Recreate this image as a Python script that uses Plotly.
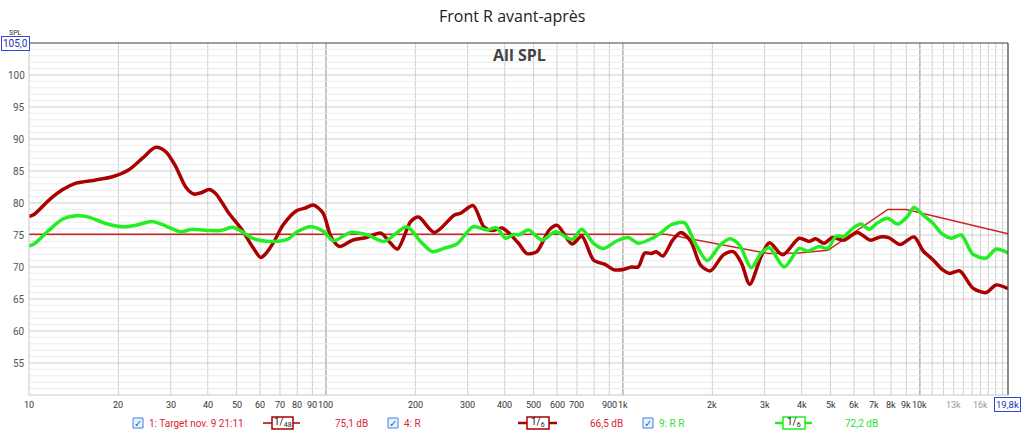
import plotly.graph_objects as go
import math

# ---------------- data ----------------
target_f = [10, 1400, 3100, 3900, 4900, 7800, 9000, 19800]
target_db = [75.1, 75.1, 72.1, 72.2, 72.6, 79.0, 79.0, 75.2]

r_f = [10, 10.4, 11.7, 13.0, 14.4, 16.8, 19.1, 21.7, 24.1, 26.7, 28.9, 31.2, 33.7, 35.9, 38,
       40.4, 42.5, 47.1, 52.2, 56.5, 60.3, 63, 66.9, 71.8, 79.6, 85, 90.6, 97.8, 104, 111, 123,
       137, 153, 163, 174, 193, 205, 232, 270, 284, 313, 340, 363, 392, 445, 475, 513, 565, 601,
       674, 727, 796, 871, 928, 1002, 1069, 1125, 1184, 1246, 1295, 1363, 1471, 1567, 1693, 1826,
       1970, 2180, 2352, 2507, 2672, 2922, 3115, 3452, 3924, 4236, 4460, 4755, 5073, 5548, 6149,
       6812, 7353, 7843, 8580, 9550, 10260, 11080, 11970, 12600, 13620, 15080, 16700, 18050, 19800]
r_db = [77.9, 78.2, 80.5, 82.1, 83.1, 83.6, 84.1, 85.2, 87.0, 88.7, 88.0, 85.7, 82.5, 81.4, 81.6,
        82.1, 81.5, 78.4, 75.8, 73.2, 71.5, 72.2, 74.0, 76.6, 78.8, 79.2, 79.7, 78.4, 74.7, 73.2, 74.2,
        74.6, 75.3, 74.0, 72.8, 77.1, 77.8, 75.4, 78.1, 78.4, 79.6, 76.3, 75.7, 76.1, 73.7, 72.1, 72.4,
        75.8, 76.5, 73.6, 74.8, 71.1, 70.4, 69.6, 69.6, 70.0, 70.0, 72.2, 72.1, 72.4, 71.7, 74.2, 75.4,
        74.0, 70.3, 69.4, 71.9, 72.4, 70.6, 67.3, 71.7, 73.8, 71.9, 74.5, 74.0, 74.4, 73.7, 74.6, 74.2,
        75.4, 74.2, 74.7, 74.6, 73.5, 74.7, 72.5, 71.1, 69.5, 69.0, 69.4, 66.7, 66.0, 67.2, 66.6]

rr_f = [10, 10.4, 11.7, 13.0, 14.4, 15.9, 18.1, 20.6, 22.8, 26.0, 28.9, 32.4, 35.4, 40.4, 44.2,
        48.4, 52.2, 56.5, 64.3, 74, 80, 88.5, 98, 106, 121, 138, 157, 187, 208, 228, 249, 276, 313,
        348, 375, 403, 429, 445, 481, 533, 593, 674, 727, 796, 860, 955, 1043, 1125, 1230, 1330,
        1454, 1612, 1738, 1922, 2124, 2291, 2470, 2707, 2922, 3115, 3490, 3924, 4185, 4580, 4890,
        5220, 5550, 5930, 6330, 6750, 7200, 7780, 8410, 9080, 9550, 10260, 11080, 11800, 12760,
        13780, 15080, 16700, 18050, 19800]
rr_db = [73.3, 73.6, 75.8, 77.5, 78.0, 77.8, 76.8, 76.3, 76.5, 77.1, 76.4, 75.5, 75.9, 75.7, 75.7,
         76.2, 75.5, 74.5, 74.0, 74.3, 75.5, 76.3, 75.6, 74.1, 75.4, 75.0, 74.0, 76.3, 74.0, 72.4, 72.9,
         73.6, 76.3, 75.8, 76.1, 74.5, 75.1, 75.0, 75.8, 74.2, 75.5, 74.3, 75.9, 73.7, 72.9, 74.1, 74.6,
         73.7, 74.3, 75.2, 76.6, 76.9, 74.0, 71.0, 73.4, 74.4, 73.4, 69.9, 72.2, 73.0, 70.0, 72.9, 72.5,
         73.2, 72.9, 74.8, 74.8, 76.0, 76.7, 75.9, 76.9, 77.6, 76.7, 77.9, 79.3, 78.1, 76.8, 75.3, 74.5,
         75.0, 72.0, 71.4, 72.8, 72.2]

x_grid = [20, 30, 40, 50, 60, 70, 80, 90, 100, 200, 300, 400, 500, 600, 700, 800, 900, 1000,
          2000, 3000, 4000, 5000, 6000, 7000, 8000, 9000, 10000, 11000, 12000, 13000, 14000,
          15000, 16000, 17000, 18000, 19000]
x_labels = {10: "10", 20: "20", 30: "30", 40: "40", 50: "50", 60: "60", 70: "70", 80: "80",
            90: "90", 100: "100", 200: "200", 300: "300", 400: "400", 500: "500", 600: "600",
            700: "700", 900: "900", 1000: "1k", 2000: "2k", 3000: "3k", 4000: "4k", 5000: "5k",
            6000: "6k", 7000: "7k", 8000: "8k", 9000: "9k", 10000: "10k"}
x_labels_faint = {13000: "13k", 16000: "16k"}
x_major = [100, 1000, 10000]
y_labels = [55, 60, 65, 70, 75, 80, 85, 90, 95, 100]

legend_names = ["1: Target nov. 9 21:11", "4: R", "9: R R"]
legend_smooth = ["1/<sub>48</sub>", "1/<sub>6</sub>", "1/<sub>6</sub>"]
legend_values = ["75,1 dB", "66,5 dB", "72,2 dB"]

# ---------------- layout helpers ----------------
W, H = 1024, 432
PL, PR, PT, PB = 29, 1008, 43, 395
XMIN, XMAX = 10, 19800
YMIN, YMAX = 50, 105


def px(x):
    return (x - PL) / (PR - PL)


def py(y):
    return (PB - y) / (PB - PT)


FONT = "Roboto"
C_TARGET = "#cc2222"
C_R = "#aa0000"
C_RR = "#22ee22"

fig = go.Figure()
fig.add_trace(go.Scatter(x=target_f, y=target_db, mode="lines",
                         line=dict(color=C_TARGET, width=1.5), hoverinfo="skip"))
fig.add_trace(go.Scatter(x=r_f, y=r_db, mode="lines",
                         line=dict(color=C_R, width=3.5, shape="spline", smoothing=0.8)))
fig.add_trace(go.Scatter(x=rr_f, y=rr_db, mode="lines",
                         line=dict(color=C_RR, width=3.5, shape="spline", smoothing=0.8)))

shapes = []
# vertical grid
for f in x_grid:
    col = "#8c8c8c" if f in x_major else "#cfcfcf"
    shapes.append(dict(type="line", xref="x", yref="paper", x0=f, x1=f, y0=0, y1=1,
                       line=dict(color=col, width=1), layer="below"))
# horizontal grid
for v in range(YMIN + 1, YMAX):
    col = "#cdcdcd" if v % 5 == 0 else "#ebebeb"
    shapes.append(dict(type="line", xref="paper", yref="y", x0=0, x1=1, y0=v, y1=v,
                       line=dict(color=col, width=1), layer="below"))
# border lines
shapes.append(dict(type="line", xref="paper", yref="paper", x0=0, x1=1, y0=1, y1=1,
                   line=dict(color="#404040", width=1.2)))
shapes.append(dict(type="line", xref="paper", yref="paper", x0=1, x1=1, y0=0, y1=1,
                   line=dict(color="#404040", width=1.2)))
shapes.append(dict(type="line", xref="paper", yref="paper", x0=0, x1=0, y0=0, y1=1,
                   line=dict(color="#c8c8c8", width=1)))
shapes.append(dict(type="line", xref="paper", yref="paper", x0=0, x1=1, y0=0, y1=0,
                   line=dict(color="#c8c8c8", width=1)))

annotations = []
# x tick labels
for f, t in list(x_labels.items()) + list(x_labels_faint.items()):
    col = "#999999" if f in x_labels_faint else "#333333"
    annotations.append(dict(x=math.log10(f), y=py(404.5), xref="x", yref="paper", text=t,
                            showarrow=False, font=dict(family=FONT, size=9, color=col),
                            xanchor="center", yanchor="middle"))
# y tick labels
for v in y_labels:
    annotations.append(dict(x=px(27), y=v, xref="paper", yref="y", text=str(v), showarrow=False,
                            font=dict(family=FONT, size=10, color="#555555"),
                            xanchor="right", yanchor="middle"))
# boxed ends
annotations.append(dict(x=px(15.5), y=py(44), xref="paper", yref="paper", text="105,0",
                        showarrow=False, font=dict(family=FONT, size=10, color="#2233aa"),
                        bordercolor="#3344ee", borderwidth=1, borderpad=1, bgcolor="white",
                        xanchor="center", yanchor="middle"))
annotations.append(dict(x=px(15.5), y=py(33), xref="paper", yref="paper", text="SPL",
                        showarrow=False, font=dict(family=FONT, size=7, color="#333333"),
                        xanchor="center", yanchor="middle"))
annotations.append(dict(x=px(1007), y=py(404.5), xref="paper", yref="paper", text="19,8k",
                        showarrow=False, font=dict(family=FONT, size=9.5, color="#2233aa"),
                        bordercolor="#3344ee", borderwidth=1, borderpad=1, bgcolor="white",
                        xanchor="center", yanchor="middle"))
# title and subtitle
annotations.append(dict(x=px(512), y=py(16), xref="paper", yref="paper",
                        text="Front R avant-après", showarrow=False,
                        font=dict(family="Open Sans", size=16, color="#222222"),
                        xanchor="center", yanchor="middle"))
annotations.append(dict(x=px(519), y=py(55), xref="paper", yref="paper", text="<b>All SPL</b>",
                        showarrow=False, font=dict(family="Open Sans", size=16, color="#444444"),
                        xanchor="center", yanchor="middle"))

# legend
LY = 423
leg = [
    dict(cb=133, name_x=147, ln=(263, 300), box=(272, 293), val_x=333, lcol=C_R, tcol="#dd2233"),
    dict(cb=388, name_x=402, ln=(518, 557), box=(527, 549), val_x=588, lcol=C_R, tcol="#dd2233"),
    dict(cb=643, name_x=657, ln=(775, 812), box=(783, 805), val_x=843, lcol=C_RR, tcol="#33dd33"),
]
for i, L in enumerate(leg):
    shapes.append(dict(type="rect", xref="paper", yref="paper", x0=px(L["cb"]), x1=px(L["cb"] + 10),
                       y0=py(LY + 5), y1=py(LY - 5), line=dict(color="#3b82e0", width=1),
                       fillcolor="#eaf2fd"))
    annotations.append(dict(x=px(L["cb"] + 5), y=py(LY), xref="paper", yref="paper", text="✓",
                            showarrow=False, font=dict(family="DejaVu Sans", size=10, color="#1f5fc0"),
                            xanchor="center", yanchor="middle"))
    annotations.append(dict(x=px(L["name_x"]), y=py(LY), xref="paper", yref="paper",
                            text=legend_names[i], showarrow=False,
                            font=dict(family=FONT, size=10, color=L["tcol"]),
                            xanchor="left", yanchor="middle"))
    shapes.append(dict(type="line", xref="paper", yref="paper", x0=px(L["ln"][0]), x1=px(L["ln"][1]),
                       y0=py(LY), y1=py(LY), line=dict(color=L["lcol"], width=2.5 if i else 1.5)))
    shapes.append(dict(type="rect", xref="paper", yref="paper", x0=px(L["box"][0]), x1=px(L["box"][1]),
                       y0=py(LY + 6), y1=py(LY - 6), line=dict(color=L["lcol"], width=1.5),
                       fillcolor="white"))
    annotations.append(dict(x=px((L["box"][0] + L["box"][1]) / 2), y=py(LY - 1), xref="paper", yref="paper",
                            text=legend_smooth[i], showarrow=False,
                            font=dict(family=FONT, size=10, color="#222222"),
                            xanchor="center", yanchor="middle"))
    annotations.append(dict(x=px(L["val_x"]), y=py(LY), xref="paper", yref="paper",
                            text=legend_values[i], showarrow=False,
                            font=dict(family=FONT, size=10, color=L["tcol"]),
                            xanchor="left", yanchor="middle"))

fig.update_layout(
    width=W, height=H,
    margin=dict(l=PL, r=W - PR, t=PT, b=H - PB, pad=0),
    paper_bgcolor="white", plot_bgcolor="white",
    showlegend=False,
    xaxis=dict(type="log", range=[math.log10(XMIN), math.log10(XMAX)], showgrid=False,
               zeroline=False, showticklabels=False, ticks="", showline=False, fixedrange=True),
    yaxis=dict(range=[YMIN, YMAX], showgrid=False, zeroline=False, showticklabels=False,
               ticks="", showline=False, fixedrange=True),
    shapes=shapes,
    annotations=annotations,
)

fig.write_html("out.html", config={"displayModeBar": False},
               post_script="document.body.style.margin='0';document.body.style.overflow='hidden';")
